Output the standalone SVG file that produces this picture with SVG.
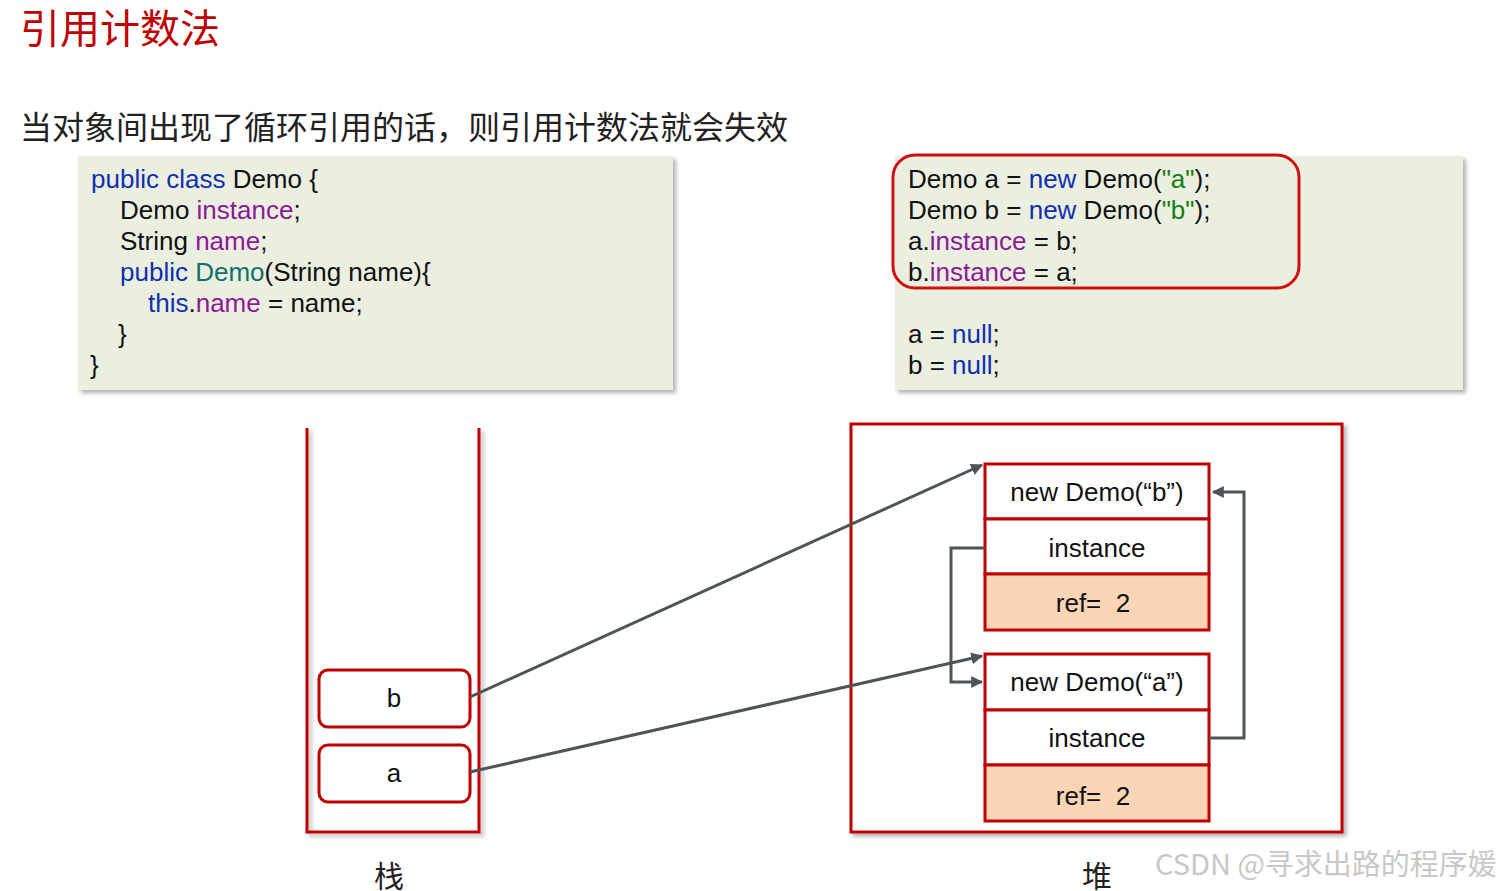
<svg xmlns="http://www.w3.org/2000/svg" width="1508" height="891" viewBox="0 0 1508 891">
<defs>
<style>
text{font-family:"Liberation Sans",Arial,"Noto Sans CJK SC",sans-serif;}
.cn{font-family:"Noto Sans CJK SC",sans-serif;}
.code{font-size:26px;fill:#111}
.k{fill:#1030b0}.p{fill:#8b1a9a}.t{fill:#107070}.s{fill:#108010}
.cell{fill:#fff;stroke:#c00000;stroke-width:3}
.ref{fill:#fbd5b5;stroke:#c00000;stroke-width:3}
.lbl{font-size:26px;fill:#111;text-anchor:middle}
.conn{fill:none;stroke:#4f5557;stroke-width:3}
</style>
<marker id="ah" viewBox="0 0 10 10" refX="9" refY="5" markerWidth="4" markerHeight="4" orient="auto-start-reverse"><path d="M0,0L10,5L0,10z" fill="#4f5557"/></marker>
<filter id="sh" x="-5%" y="-5%" width="110%" height="110%"><feDropShadow dx="3" dy="3" stdDeviation="2" flood-color="#000" flood-opacity="0.3"/></filter>
</defs>
<rect width="1508" height="891" fill="#fff"/>
<text class="cn" x="20" y="43" font-size="40" fill="#c00000">引用计数法</text>
<text class="cn" x="20" y="139" font-size="32" fill="#222">当对象间出现了循环引用的话，则引用计数法就会失效</text>

<g id="code-left">
<rect x="78" y="156" width="595" height="234" fill="#ebefdf" filter="url(#sh)"/>
<text class="code" x="91" y="188"><tspan class="k">public class</tspan> Demo {</text>
<text class="code" x="120" y="219">Demo <tspan class="p">instance</tspan>;</text>
<text class="code" x="120" y="250">String <tspan class="p">name</tspan>;</text>
<text class="code" x="120" y="281"><tspan class="k">public</tspan> <tspan class="t">Demo</tspan>(String name){</text>
<text class="code" x="148" y="312"><tspan class="k">this</tspan>.<tspan class="p">name</tspan> = name;</text>
<text class="code" x="118" y="343">}</text>
<text class="code" x="90" y="374">}</text>
</g>

<g id="code-right">
<rect x="895" y="156" width="568" height="234" fill="#ebefdf" filter="url(#sh)"/>
<rect x="893" y="155" width="406" height="133" rx="22" fill="none" stroke="#d01010" stroke-width="3"/>
<text class="code" x="908" y="188">Demo a = <tspan class="k">new</tspan> Demo(<tspan class="s">"a"</tspan>);</text>
<text class="code" x="908" y="219">Demo b = <tspan class="k">new</tspan> Demo(<tspan class="s">"b"</tspan>);</text>
<text class="code" x="908" y="250">a.<tspan class="p">instance</tspan> = b;</text>
<text class="code" x="908" y="281">b.<tspan class="p">instance</tspan> = a;</text>
<text class="code" x="908" y="343">a = <tspan class="k">null</tspan>;</text>
<text class="code" x="908" y="374">b = <tspan class="k">null</tspan>;</text>
</g>

<g id="stack">
<path d="M307,428V832H479V428" fill="none" stroke="#c00000" stroke-width="3" filter="url(#sh)"/>
<text class="cn" x="389" y="887" font-size="30" text-anchor="middle" fill="#222">栈</text>
</g>
<g id="var-b">
<rect x="319" y="670" width="151" height="57" rx="9" fill="#fff" stroke="#c00000" stroke-width="3"/>
<text class="lbl" x="394" y="707">b</text>
</g>
<g id="var-a">
<rect x="319" y="745" width="151" height="57" rx="9" fill="#fff" stroke="#c00000" stroke-width="3"/>
<text class="lbl" x="394" y="782">a</text>
</g>

<g id="heap">
<rect x="851" y="424" width="491" height="408" fill="#fff" stroke="#c00000" stroke-width="3" filter="url(#sh)"/>
<text class="cn" x="1097" y="887" font-size="30" text-anchor="middle" fill="#222">堆</text>
</g>
<g id="obj-b">
<rect class="cell" x="985" y="464" width="224" height="55"/>
<rect class="cell" x="985" y="519" width="224" height="55"/>
<rect class="ref" x="985" y="574" width="224" height="56"/>
<text class="lbl" x="1097" y="501">new Demo(“b”)</text>
<text class="lbl" x="1097" y="557">instance</text>
<text class="lbl" x="1093" y="612" font-size="28" xml:space="preserve">ref=  2</text>
</g>
<g id="obj-a">
<rect class="cell" x="985" y="654" width="224" height="56"/>
<rect class="cell" x="985" y="710" width="224" height="55"/>
<rect class="ref" x="985" y="765" width="224" height="56"/>
<text class="lbl" x="1097" y="691">new Demo(“a”)</text>
<text class="lbl" x="1097" y="747">instance</text>
<text class="lbl" x="1093" y="805" font-size="28" xml:space="preserve">ref=  2</text>
</g>

<g id="connectors">
<line class="conn" x1="470" y1="697" x2="982" y2="465" marker-end="url(#ah)"/>
<line class="conn" x1="470" y1="772" x2="982" y2="656" marker-end="url(#ah)"/>
<path class="conn" d="M985,548H951V682H982" marker-end="url(#ah)"/>
<path class="conn" d="M1209,738H1244V492H1213" marker-end="url(#ah)"/>
</g>
<text class="cn" x="1155" y="875" font-size="29" fill="#c8c8c8">CSDN @寻求出路的程序媛</text>
</svg>
